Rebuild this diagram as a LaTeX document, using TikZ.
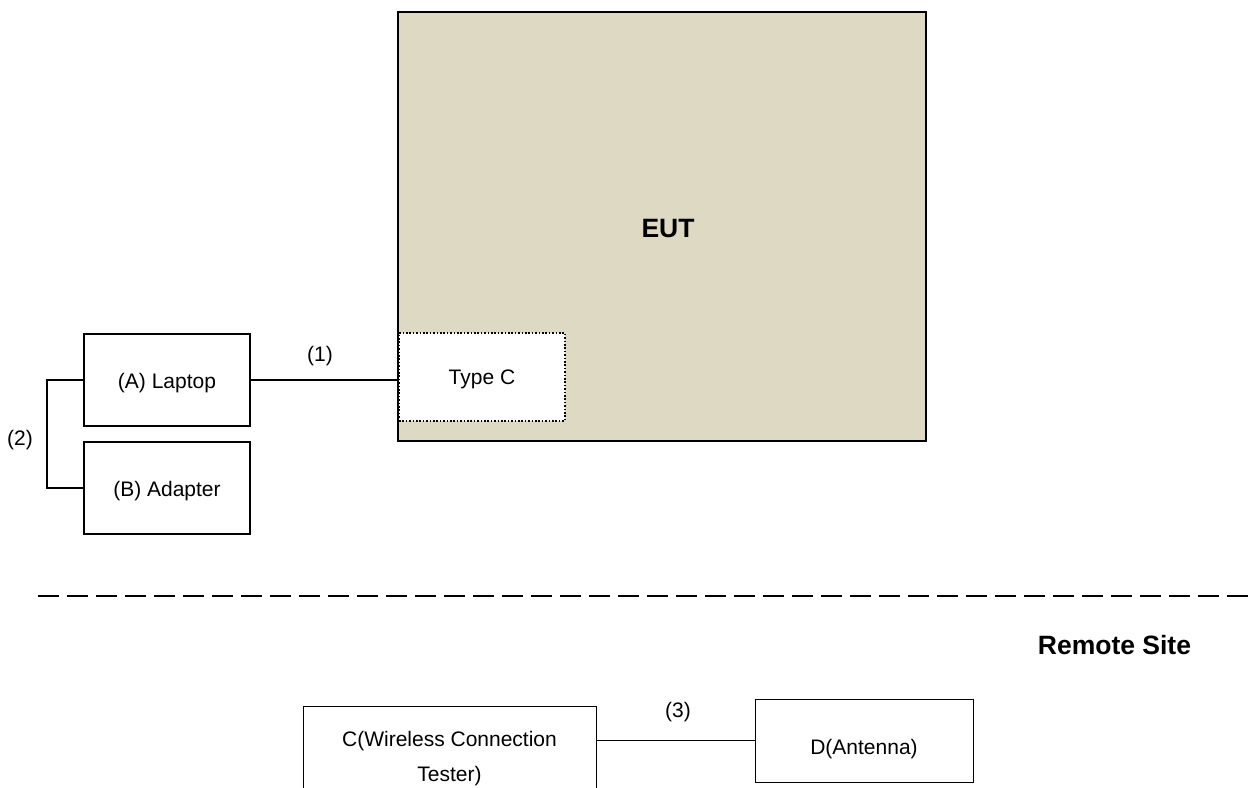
\documentclass[tikz,border=0pt]{standalone}
\usepackage{fontspec}
\setmainfont{Liberation Sans}
\definecolor{eutfill}{RGB}{221,217,195}
\tikzset{
  px/.style={x=1pt,y=-1pt},
  txt/.style={font=\fontsize{21}{25}\selectfont, inner sep=0pt},
  bold/.style={font=\fontsize{26.5}{30}\selectfont\bfseries, inner sep=0pt},
  thickbox/.style={draw=black, line width=2.2pt, inner sep=0pt, outer sep=0pt, rectangle},
  thinbox/.style={draw=black, line width=1pt, inner sep=0pt, outer sep=0pt, rectangle},
  wire/.style={draw=black, line width=1.2pt},
}
\begin{document}
\begin{tikzpicture}[px]
\useasboundingbox (0,0) rectangle (1249,787);
\clip (0,0) rectangle (1249,787);
% EUT
\node[thickbox, fill=eutfill, minimum width=528pt, minimum height=429pt] (eut) at (662,226.5) {};
\node[bold] (euttext) at (668,229) {EUT};
\node[draw=black, fill=white, line width=1.6pt, dash pattern=on 1.6pt off 1.8pt, inner sep=0pt, minimum width=166pt, minimum height=88pt, txt] (typec) at (482,377) {};
\node[txt] (typectext) at (482,379) {Type C};
% Laptop / Adapter
\node[thickbox, minimum width=166pt, minimum height=92pt] (laptop) at (167,380) {};
\node[txt] (laptoptext) at (167,383) {(A) Laptop};
\node[thickbox, minimum width=166pt, minimum height=92pt] (adapter) at (167,488) {};
\node[txt] (adaptertext) at (167,491) {(B) Adapter};
\draw[wire] (laptop.east) -- (laptop.east -| eut.west);
\node[txt] (l1) at (320,356) {(1)};
\draw[wire] (laptop.west) -- ++(-37,0) coordinate (bk) |- (adapter.west);
\node[txt] (l2) at (20,440) {(2)};
% dashed separator
\coordinate (dl) at (38,596);
\coordinate (dr) at (1260,596);
\draw[line width=2.2pt, dash pattern=on 21pt off 8pt] (dl) -- (dr);
\node[bold, anchor=base] (remote) at (1114.5,654) {Remote Site};
% Remote site boxes
\node[thinbox, minimum width=293pt, minimum height=120pt] (cbox) at (449.5,766) {};
\node[txt, align=center, font=\fontsize{21}{35}\selectfont, anchor=base] (ctext) at (449.5,781) {C(Wireless Connection\\Tester)};
\node[thinbox, minimum width=218pt, minimum height=83pt] (dbox) at (864,740.5) {};
\node[txt] (dtext) at (864,749) {D(Antenna)};
\draw[wire] (dbox.west -| cbox.east) -- (dbox.west);
\node[txt] (l3) at (678,712) {(3)};
\end{tikzpicture}
\end{document}
